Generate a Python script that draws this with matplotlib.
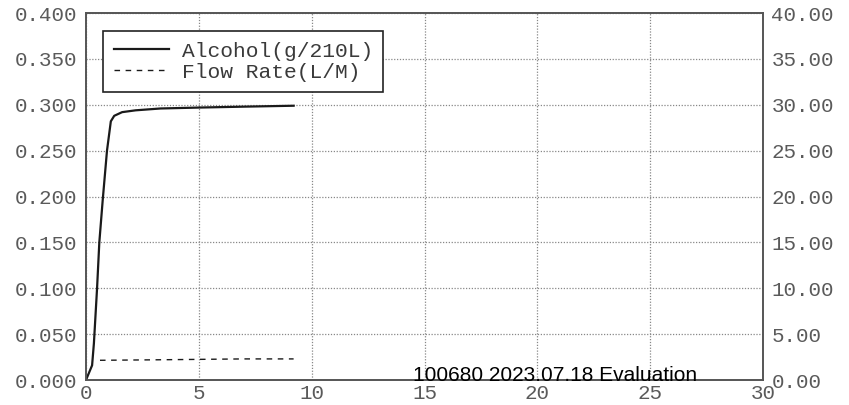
import numpy as np
import matplotlib.pyplot as plt
from matplotlib.ticker import FormatStrFormatter

# time in seconds
alc_t = [0, 0.27, 0.35, 0.49, 0.59, 0.74, 0.93, 1.1, 1.25, 1.6, 2.2, 3.3, 5.0, 7.0, 9.2]
alc_v = [0, 0.016, 0.04, 0.10, 0.15, 0.196, 0.25, 0.282, 0.288, 0.292, 0.294,
         0.296, 0.297, 0.298, 0.299]

flow_t = [0.62, 3.0, 5.0, 7.0, 9.2]
flow_v = [2.15, 2.2, 2.25, 2.3, 2.3]

mono = 'Liberation Mono'
tick_col = '#5a5a5a'

fig = plt.figure(figsize=(8.49, 4.05), dpi=100)
ax = fig.add_axes([0.1013, 0.0617, 0.7974, 0.906])
ax2 = ax.twinx()

l1, = ax.plot(alc_t, alc_v, color='#1a1a1a', lw=1.6, label='Alcohol(g/210L)')
l2, = ax2.plot(flow_t, flow_v, color='#1a1a1a', lw=1.0, dashes=(4, 4), label='Flow Rate(L/M)')

ax.set_xlim(0, 30)
ax.set_ylim(0, 0.4)
ax2.set_ylim(0, 40)
ax.set_xticks(np.arange(0, 31, 5))
ax.set_yticks(np.arange(0, 0.401, 0.05))
ax2.set_yticks(np.arange(0, 40.1, 5))
ax.yaxis.set_major_formatter(FormatStrFormatter('%.3f'))
ax2.yaxis.set_major_formatter(FormatStrFormatter('%.2f'))

ax.grid(True, color='#888888', ls=(0, (1, 1.3)), lw=0.9)

for a in (ax, ax2):
    a.tick_params(length=0, labelsize=15, labelcolor=tick_col, pad=6)
    for lab in a.get_xticklabels() + a.get_yticklabels():
        lab.set_fontfamily(mono)
    for s in a.spines.values():
        s.set_color('#555555')
        s.set_linewidth(1.2)
ax.tick_params(axis='x', pad=3)

leg = ax.legend(handles=[l1, l2], loc='upper left', bbox_to_anchor=(0.025, 0.951),
                borderaxespad=0, fancybox=False, framealpha=1, edgecolor='#222222',
                prop={'family': mono, 'size': 15.3}, handlelength=2.6,
                handletextpad=0.6, borderpad=0.5, labelspacing=0.1)
leg.get_frame().set_linewidth(1.2)
for t in leg.get_texts():
    t.set_color('#3a3a3a')

fig.text(413 / 849, 1 - 381 / 405, '100680 2023.07.18 Evaluation',
         fontfamily='Liberation Sans', fontsize=15, color='black', va='baseline')

fig.savefig('out.png', dpi=100)
